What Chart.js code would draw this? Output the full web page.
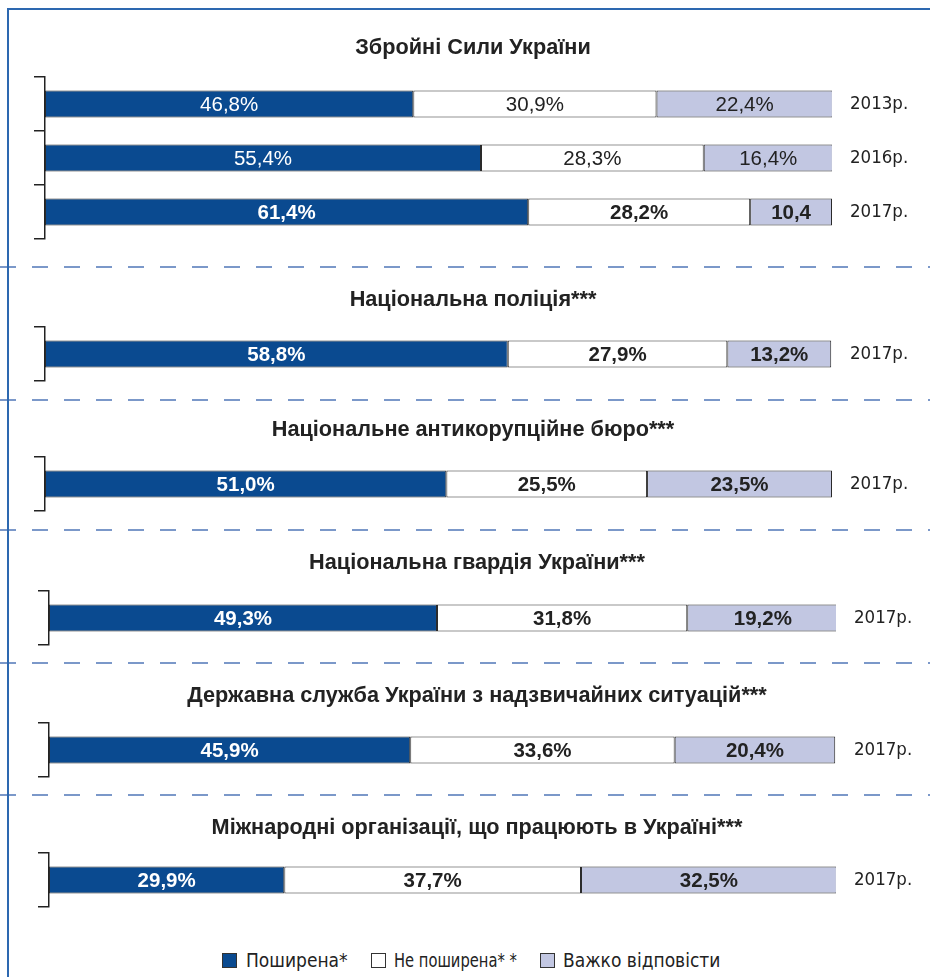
<!DOCTYPE html>
<html>
<head>
<meta charset="utf-8">
<script src="https://cdn.jsdelivr.net/npm/chart.js@4.4.1/dist/chart.umd.min.js"></script>
<style>
  html, body { margin: 0; padding: 0; background: #ffffff; }
  #page { position: relative; width: 930px; height: 977px; overflow: hidden; background: #fff; }
  .grp { position: absolute; left: 0; width: 930px; }
  #legend { position: absolute; top: 949px; left: 0; width: 930px; height: 22px;
            font-family: 'DejaVu Sans Condensed', 'Liberation Sans', sans-serif;
            font-size: 19px; color: #222; }
  .li { position: absolute; top: 0; height: 22px; line-height: 22px; white-space: nowrap; }
  .sw { position: absolute; top: 4px; width: 13px; height: 13px; border: 1px solid #333; box-sizing: content-box; }
</style>
</head>
<body>
<div id="page">
  <svg id="deco" width="930" height="977" style="position:absolute;left:0;top:0;">
  </svg>
  <div id="legend">
    <div class="sw" style="left:222px;background:#0a4a90;"></div>
    <div class="li" style="left:246px;">Поширена*</div>
    <div class="sw" style="left:371px;background:#ffffff;"></div>
    <div class="li" style="left:394px;transform:scaleX(0.86);transform-origin:left center;">Не поширена* *</div>
    <div class="sw" style="left:540px;background:#c2c7e2;"></div>
    <div class="li" style="left:563px;">Важко відповісти</div>
  </div>
</div>
<script>
// ---------- DATA ----------
const seriesNames = ['Поширена*', 'Не поширена**', 'Важко відповісти'];

const groupTitles = [
  'Збройні Сили України',
  'Національна поліція***',
  'Національне антикорупційне бюро***',
  'Національна гвардія України***',
  'Державна служба України з надзвичайних ситуацій***',
  'Міжнародні організації, що працюють в Україні***'
];

const armedYears = ['2013р.', '2016р.', '2017р.'];
const armedWide  = [46.8, 55.4, 61.4];
const armedNot   = [30.9, 28.3, 28.2];
const armedHard  = [22.4, 16.4, 10.4];
const armedHardLabels = ['22,4%', '16,4%', '10,4'];
const armedBold  = [false, false, true];

const policeYears = ['2017р.'];
const policeWide = [58.8];
const policeNot  = [27.9];
const policeHard = [13.2];

const nabuYears = ['2017р.'];
const nabuWide = [51.0];
const nabuNot  = [25.5];
const nabuHard = [23.5];

const guardYears = ['2017р.'];
const guardWide = [49.3];
const guardNot  = [31.8];
const guardHard = [19.2];

const dsnsYears = ['2017р.'];
const dsnsWide = [45.9];
const dsnsNot  = [33.6];
const dsnsHard = [20.4];

const intlYears = ['2017р.'];
const intlWide = [29.9];
const intlNot  = [37.7];
const intlHard = [32.5];

// ---------- STYLE ----------
const colWide = '#0a4a90';
const colNot  = '#ffffff';
const colHard = '#c2c7e2';
const edge    = '#2a2a2a';
const narrow  = "'DejaVu Sans Condensed', 'Liberation Sans', sans-serif";
const sans    = "'Liberation Sans', Arial, sans-serif";

// layout per group: title centre, bracket top, left pad, right pad
const layouts = [
  { tc: 48,  bt: 77,  lp: 33, rp: 17 },
  { tc: 300, bt: 327, lp: 33, rp: 17 },
  { tc: 430, bt: 457, lp: 33, rp: 17 },
  { tc: 563, bt: 591, lp: 37, rp: 13 },
  { tc: 696, bt: 723, lp: 37, rp: 13 },
  { tc: 828, bt: 853, lp: 37, rp: 13 }
];
const rowH = 54;

// separators and frame
const sepY = [267, 400, 530, 663, 795];
const svg = document.getElementById('deco');
let s = '';
sepY.forEach(y => {
  s += `<line x1="0" y1="${y}" x2="930" y2="${y}" stroke="#7b98c9" stroke-width="2" stroke-dasharray="16 16"/>`;
});
s += `<line x1="8" y1="9" x2="8" y2="977" stroke="#2d68b0" stroke-width="2"/>`;
s += `<line x1="7" y1="9" x2="930" y2="9" stroke="#2d68b0" stroke-width="2"/>`;
svg.innerHTML = s;

function fmt(v) { return v.toFixed(1).replace('.', ',') + '%'; }

const valueLabels = {
  id: 'valueLabels',
  afterDatasetsDraw(chart, args, opts) {
    const ctx = chart.ctx;
    ctx.save();
    chart.data.datasets.forEach((ds, di) => {
      const meta = chart.getDatasetMeta(di);
      meta.data.forEach((el, i) => {
        const txt = ds.texts ? ds.texts[i] : fmt(ds.data[i]);
        const bold = opts.bold[i];
        ctx.font = (bold ? 'bold ' : '') + '20.5px ' + sans;
        ctx.fillStyle = di === 0 ? '#ffffff' : '#222222';
        ctx.textAlign = 'center';
        ctx.textBaseline = 'middle';
        const cx = (el.x + el.base) / 2;
        ctx.fillText(txt, cx, el.y + 1);
      });
    });
    ctx.restore();
  }
};

const groups = [
  { years: armedYears,  wide: armedWide,  not: armedNot,  hard: armedHard,  hardTexts: armedHardLabels, bold: armedBold },
  { years: policeYears, wide: policeWide, not: policeNot, hard: policeHard, bold: [true] },
  { years: nabuYears,   wide: nabuWide,   not: nabuNot,   hard: nabuHard,   bold: [true] },
  { years: guardYears,  wide: guardWide,  not: guardNot,  hard: guardHard,  bold: [true] },
  { years: dsnsYears,   wide: dsnsWide,   not: dsnsNot,   hard: dsnsHard,   bold: [true] },
  { years: intlYears,   wide: intlWide,   not: intlNot,   hard: intlHard,   bold: [true] }
];

const page = document.getElementById('page');
const TITLE_SIZE = 21.7;
const TITLE_LH = TITLE_SIZE * 1.2;

groups.forEach((g, gi) => {
  const L = layouts[gi];
  const top = Math.round(L.tc - TITLE_LH / 2);
  const titleBottom = L.bt - top - TITLE_LH;
  const n = g.years.length;
  const h = (L.bt - top) + n * rowH + 2;
  const div = document.createElement('div');
  div.className = 'grp';
  div.style.top = top + 'px';
  div.style.height = h + 'px';
  const cv = document.createElement('canvas');
  div.appendChild(cv);
  page.appendChild(div);

  const mk = (label, data, color, texts) => ({
    label, data, texts,
    backgroundColor: color,
    borderColor: edge,
    borderWidth: 1,
    borderSkipped: false,
    barPercentage: 0.5,
    categoryPercentage: 1.0,
    yAxisID: 'y'
  });

  new Chart(cv, {
    type: 'bar',
    data: {
      labels: g.years,
      datasets: [
        mk(seriesNames[0], g.wide, colWide),
        mk(seriesNames[1], g.not, colNot),
        mk(seriesNames[2], g.hard, colHard, g.hardTexts)
      ]
    },
    options: {
      indexAxis: 'y',
      responsive: true,
      maintainAspectRatio: false,
      animation: false,
      layout: { padding: { left: L.lp, right: L.rp, top: 0, bottom: 2 } },
      scales: {
        x: { stacked: true, min: 0, max: 100, display: false },
        y: {
          type: 'category',
          position: 'left',
          stacked: true,
          offset: true,
          grid: { display: true, offset: true, drawOnChartArea: false, drawTicks: true,
                  tickLength: 11, color: '#222', lineWidth: 1.5 },
          border: { display: true, color: '#222', width: 1.5 },
          ticks: { display: false },
          afterFit(sc) { sc.width = 12; sc.paddingTop = 0; sc.paddingBottom = 0; }
        },
        y2: {
          type: 'category',
          position: 'right',
          offset: true,
          grid: { display: false, drawTicks: false },
          border: { display: false },
          ticks: { padding: 18, color: '#222', font: { family: narrow, size: 18.5 } },
          afterFit(sc) {
            sc.width = 930 - L.rp - (gi < 3 ? 832 : 836);
            sc.paddingTop = 0; sc.paddingBottom = 0;
          }
        }
      },
      plugins: {
        legend: { display: false },
        tooltip: { enabled: false },
        title: {
          display: true,
          text: groupTitles[gi],
          color: '#222',
          font: { family: sans, size: TITLE_SIZE, weight: 'bold', lineHeight: 1.2 },
          padding: { top: 0, bottom: titleBottom }
        },
        valueLabels: { bold: g.bold }
      }
    },
    plugins: [valueLabels]
  });
});
</script>
</body>
</html>
